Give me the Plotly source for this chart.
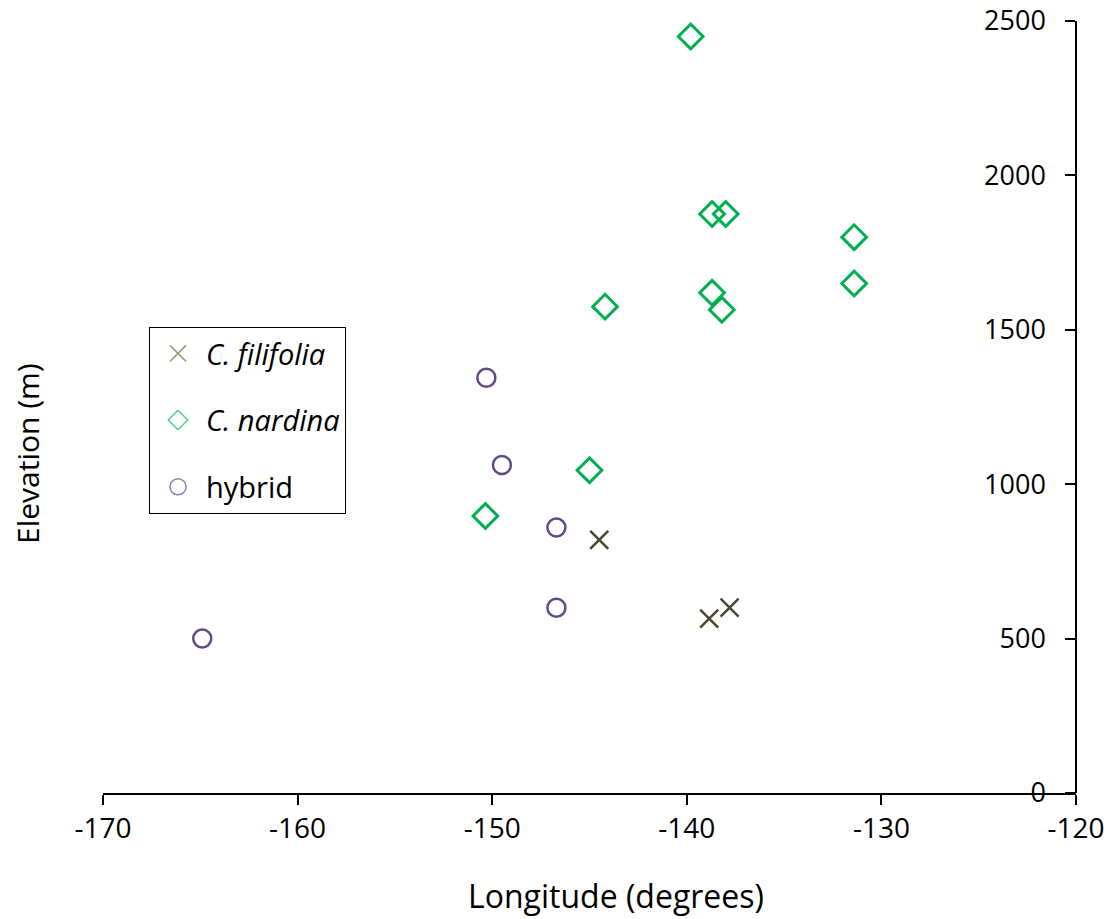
import plotly.graph_objects as go

# Data
filifolia_lon = [-144.5, -138.85, -137.8]
filifolia_elev = [820, 565, 600]

nardina_lon = [-139.8, -138.7, -138.0, -131.4, -131.4, -144.2, -138.7, -138.2, -145.0, -150.35]
nardina_elev = [2450, 1875, 1875, 1800, 1650, 1575, 1620, 1565, 1045, 897]

hybrid_lon = [-150.3, -149.5, -146.7, -146.7, -164.9]
hybrid_elev = [1345, 1062, 860, 600, 500]

x_ticks = [-170, -160, -150, -140, -130, -120]
y_ticks = [0, 500, 1000, 1500, 2000, 2500]

FONT = "Open Sans"
C_FIL = "#4B4630"
C_NAR = "#00B050"
C_HYB = "#604A85"

fig = go.Figure()

fig.add_trace(go.Scatter(
    x=filifolia_lon, y=filifolia_elev, mode="markers", showlegend=False,
    marker=dict(symbol="x-thin-open", size=18, line=dict(color=C_FIL, width=2.5), color=C_FIL)))
fig.add_trace(go.Scatter(
    x=nardina_lon, y=nardina_elev, mode="markers", showlegend=False,
    marker=dict(symbol="diamond-open", size=19, line=dict(color=C_NAR, width=3), color=C_NAR)))
fig.add_trace(go.Scatter(
    x=hybrid_lon, y=hybrid_elev, mode="markers", showlegend=False,
    marker=dict(symbol="circle-open", size=18, line=dict(color=C_HYB, width=2.5), color=C_HYB)))

# legend entries (lighter, thinner symbols as in the reference)
fig.add_trace(go.Scatter(
    x=[None], y=[None], mode="markers", name="<i>C. filifolia</i>", legendgroup="a",
    marker=dict(symbol="x-thin-open", size=16, line=dict(color="#9C9880", width=1.5), color="#9C9880")))
fig.add_trace(go.Scatter(
    x=[None], y=[None], mode="markers", name="<i>C. nardina</i>", legendgroup="b",
    marker=dict(symbol="diamond-open", size=15, line=dict(color="#4ED08A", width=1.5), color="#4ED08A")))
fig.add_trace(go.Scatter(
    x=[None], y=[None], mode="markers", name="hybrid", legendgroup="c",
    marker=dict(symbol="circle-open", size=16, line=dict(color="#8C7DB3", width=1.5), color="#8C7DB3")))

fig.update_layout(
    width=1113, height=919,
    margin=dict(l=103, r=37, t=21, b=126, autoexpand=False),
    paper_bgcolor="white", plot_bgcolor="white",
    font=dict(family=FONT, color="black"),
    showlegend=True,
    legend=dict(
        x=(149 - 103) / 973, y=(793 - 327) / 772, xanchor="left", yanchor="top",
        bordercolor="black", borderwidth=1, bgcolor="white",
        font=dict(family=FONT, size=29, color="black"),
        tracegroupgap=26, itemwidth=46,
    ),
    xaxis=dict(
        range=[-170, -120], tickvals=x_ticks, ticktext=[str(v) for v in x_ticks],
        showgrid=False, zeroline=False, showline=True, linecolor="black", linewidth=1.5,
        ticks="outside", ticklen=10, tickwidth=1.5, tickcolor="black",
        tickfont=dict(family=FONT, size=28, color="black"),
        anchor="y", automargin=False,
    ),
    yaxis=dict(
        range=[0, 2500], tickvals=y_ticks, ticktext=[str(v) for v in y_ticks],
        showgrid=False, zeroline=False, showline=True, linecolor="black", linewidth=1.5,
        ticks="outside", ticklen=10, tickwidth=1.5, tickcolor="black",
        tickfont=dict(family=FONT, size=27, color="black"),
        anchor="free", position=1, side="left", ticklabelstandoff=14, automargin=False,
    ),
    annotations=[
        dict(text="Longitude (degrees)", xref="paper", yref="paper",
             x=(616 - 103) / 973, y=(793 - 895) / 772, xanchor="center", yanchor="middle",
             showarrow=False, font=dict(family=FONT, size=32, color="black")),
        dict(text="Elevation (m)", xref="paper", yref="paper", textangle=-90,
             x=(27 - 103) / 973, y=(793 - 454) / 772, xanchor="center", yanchor="middle",
             showarrow=False, font=dict(family=FONT, size=30, color="black")),
    ],
)

fig.write_html("out.html")
